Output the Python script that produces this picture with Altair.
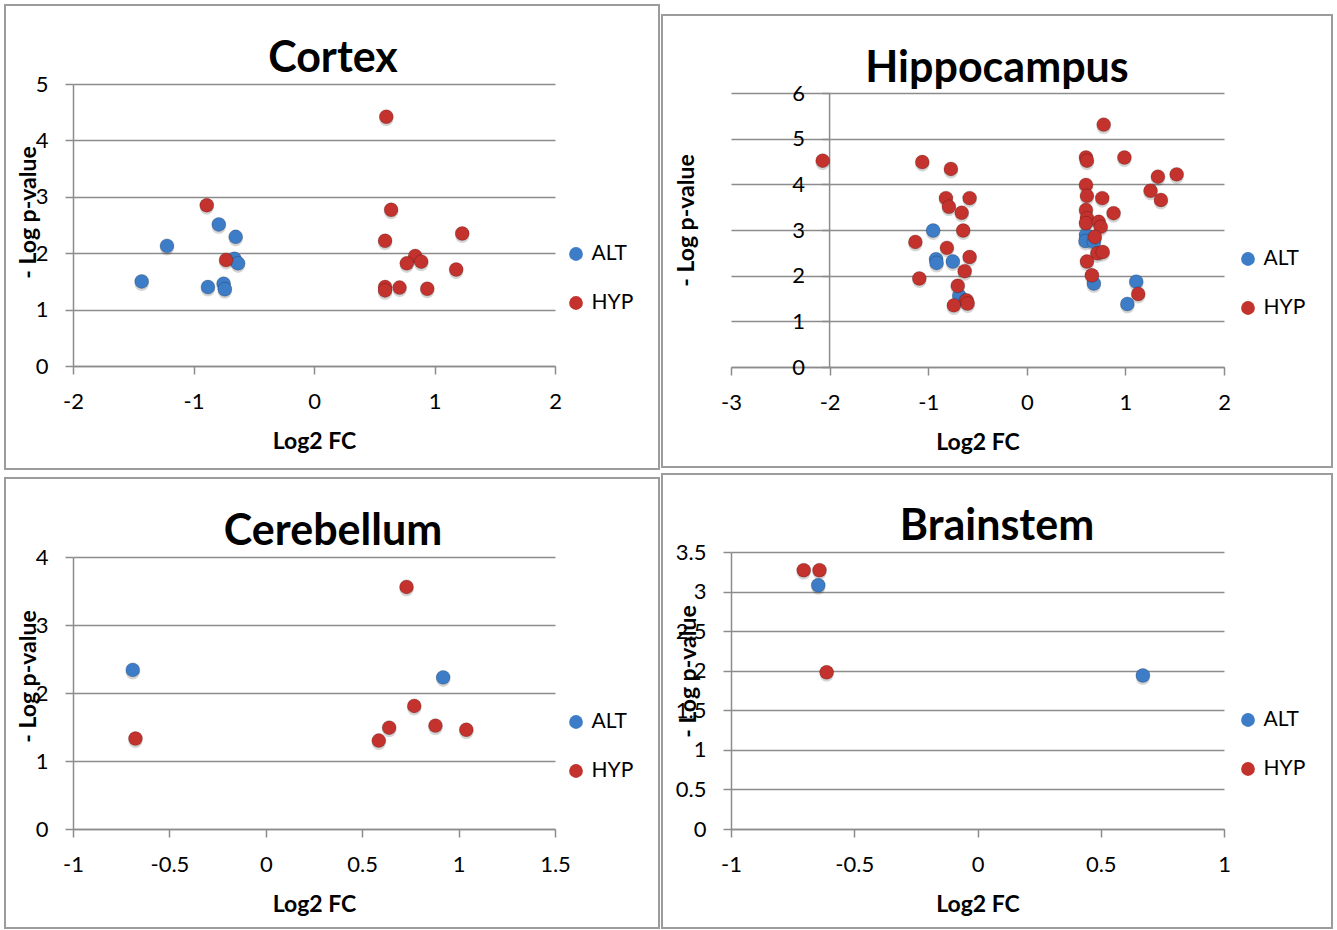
import altair as alt
import pandas as pd

# Series names and colours
GROUPS = ["ALT", "HYP"]
COLORS = ["#3d7cc7", "#c3322d"]
GRID = "#8c8c8c"
FONT = "Lato"

PANELS = ["Cortex", "Hippocampus", "Cerebellum", "Brainstem"]

# Cortex: log2 fold change and -log p-value
cortex_alt_fc = [-1.43, -1.22, -0.79, -0.65, -0.66, -0.63, -0.88, -0.75, -0.74]
cortex_alt_p = [1.50, 2.13, 2.51, 2.29, 1.90, 1.82, 1.40, 1.46, 1.36]
cortex_hyp_fc = [-0.89, -0.73, 0.60, 0.64, 0.59, 1.23, 0.84, 0.77, 0.89, 1.18, 0.59, 0.59, 0.71, 0.94]
cortex_hyp_p = [2.85, 1.88, 4.42, 2.77, 2.22, 2.35, 1.95, 1.82, 1.85, 1.71, 1.40, 1.34, 1.39, 1.37]

# Hippocampus
hippo_alt_fc = [-0.95, -0.92, -0.915, -0.75, -0.685, -0.62, 0.60, 0.595, 0.68, 0.68, 1.11, 1.02]
hippo_alt_p = [2.99, 2.36, 2.28, 2.31, 1.56, 1.45, 2.89, 2.76, 2.74, 1.83, 1.87, 1.38]
hippo_hyp_fc = [-2.07, -1.06, -0.77, -0.82, -0.79, -0.58, -0.66, -0.645, -1.13, -0.81, -0.58,
                -0.63, -1.09, -0.70, -0.74, -0.61, -0.60,
                0.78, 0.60, 0.61, 0.99, 1.33, 1.52, 1.255, 1.36, 0.60, 0.61, 0.765, 0.88,
                0.60, 0.61, 0.60, 0.73, 0.75, 0.69, 0.715, 0.77, 0.61, 0.66, 1.13]
hippo_hyp_p = [4.52, 4.49, 4.34, 3.70, 3.51, 3.70, 3.38, 2.99, 2.74, 2.61, 2.41,
               2.10, 1.94, 1.78, 1.35, 1.46, 1.39,
               5.31, 4.59, 4.52, 4.59, 4.17, 4.22, 3.86, 3.66, 3.99, 3.75, 3.70, 3.37,
               3.44, 3.26, 3.15, 3.18, 3.07, 2.85, 2.49, 2.52, 2.31, 2.01, 1.60]

# Cerebellum
cereb_alt_fc = [-0.69, 0.92]
cereb_alt_p = [2.34, 2.23]
cereb_hyp_fc = [-0.676, 0.73, 0.77, 0.64, 0.586, 0.88, 1.04]
cereb_hyp_p = [1.33, 3.56, 1.81, 1.49, 1.30, 1.52, 1.46]

# Brainstem
brain_alt_fc = [-0.646, 0.671]
brain_alt_p = [3.08, 1.94]
brain_hyp_fc = [-0.705, -0.641, -0.612]
brain_hyp_p = [3.27, 3.27, 1.98]

# Axis tick values
cortex_x_ticks = [-2, -1, 0, 1, 2]
cortex_y_ticks = [0, 1, 2, 3, 4, 5]
hippo_x_ticks = [-3, -2, -1, 0, 1, 2]
hippo_y_ticks = [0, 1, 2, 3, 4, 5, 6]
cereb_x_ticks = [-1, -0.5, 0, 0.5, 1, 1.5]
cereb_y_ticks = [0, 1, 2, 3, 4]
brain_x_ticks = [-1, -0.5, 0, 0.5, 1]
brain_y_ticks = [0, 0.5, 1, 1.5, 2, 2.5, 3, 3.5]

# Hippocampus: value axis stands at x = -2 and leaves a little headroom above 6
hippo_axis_cross = -2
hippo_y_top = 6.2


def frame(alt_fc, alt_p, hyp_fc, hyp_p):
    return pd.DataFrame({
        "fc": list(alt_fc) + list(hyp_fc),
        "p": list(alt_p) + list(hyp_p),
        "group": [GROUPS[0]] * len(alt_fc) + [GROUPS[1]] * len(hyp_fc),
    })


def panel(name, data, x_ticks, y_ticks, width, height, box, title_xy,
          ytitle_xy, legend_xy, y_axis_offset=0, spacer_top=None,
          y_top=None, axis_cross=None):
    y_max = y_ticks[-1] if y_top is None else y_top
    x_axis = alt.Axis(
        values=x_ticks, title="Log2 FC", grid=False,
        labelExpr="datum.value + ''", labelFlush=False, labelOverlap=False,
        labelFont=FONT, labelFontSize=22, labelColor="black", labelPadding=17,
        tickSize=8, tickColor=GRID, tickWidth=1.5,
        domainColor=GRID, domainWidth=1.5,
        titleFont=FONT, titleFontSize=23, titleFontWeight="bold", titleColor="black",
        titleY=75, titleBaseline="middle",
    )
    y_axis = alt.Axis(
        values=y_ticks, title="- Log p-value", grid=True,
        gridColor=GRID, gridWidth=1.5,
        labelExpr="datum.value + ''", labelOverlap=False,
        labelFont=FONT, labelFontSize=22, labelColor="black", labelPadding=17,
        tickSize=8, tickColor=GRID, tickWidth=1.5,
        domain=axis_cross is None, domainColor=GRID, domainWidth=1.5,
        titleFont=FONT, titleFontSize=23, titleFontWeight="bold", titleColor="black",
        titleAngle=270, titleX=ytitle_xy[0], titleY=ytitle_xy[1],
        titleAlign="center", titleBaseline="middle",
        offset=y_axis_offset,
    )
    x_enc = alt.X("fc:Q", scale=alt.Scale(domain=[x_ticks[0], x_ticks[-1]], nice=False, zero=False),
                  axis=x_axis)
    y_enc = alt.Y("p:Q", scale=alt.Scale(domain=[y_ticks[0], y_max], nice=False),
                  axis=y_axis)

    label = pd.DataFrame({"panel": [name]})

    # Grey frame round the whole panel
    border = alt.Chart(label).mark_rect(fillOpacity=0, stroke="#9c9c9c", strokeWidth=2).encode(
        x=alt.value(box[0]), x2=alt.value(box[1]), y=alt.value(box[2]), y2=alt.value(box[3])
    )
    heading = alt.Chart(label).mark_text(
        font=FONT, fontSize=43, fontWeight="bold", color="black",
        align="center", baseline="middle",
    ).encode(text="panel:N", x=alt.value(title_xy[0]), y=alt.value(title_xy[1]))

    base = alt.Chart(data)
    shadow = base.mark_circle(size=200, color="#000000", opacity=0.16).encode(
        x=x_enc, y=y_enc, yOffset=alt.value(2.5)
    )
    points = base.mark_circle(size=195, opacity=1, stroke="#000000", strokeOpacity=0.25,
                              strokeWidth=0.8).encode(
        x=x_enc, y=y_enc,
        color=alt.Color(
            "group:N",
            scale=alt.Scale(domain=GROUPS, range=COLORS),
            legend=alt.Legend(
                title=None, orient="none", legendX=legend_xy[0], legendY=legend_xy[1],
                symbolType="circle", symbolSize=190, symbolStrokeWidth=0,
                labelFont=FONT, labelFontSize=21, labelColor="black",
                rowPadding=27, labelOffset=5, padding=0,
            ),
        ),
    )

    layers = [border]
    if spacer_top is not None:
        # invisible mark that sets how far this panel's frame sits below its row's top
        layers.append(
            alt.Chart(label).mark_rule(opacity=0).encode(
                x=alt.value(0), y=alt.value(spacer_top), y2=alt.value(spacer_top + 1)
            )
        )
    if axis_cross is not None:
        # value axis line drawn where it crosses the category axis
        layers.append(
            alt.Chart(label).mark_rule(color=GRID, strokeWidth=1.5).encode(
                x=alt.datum(axis_cross, type="quantitative"),
                y=alt.datum(y_ticks[0], type="quantitative"),
                y2=alt.datum(y_ticks[-1]),
            )
        )
    layers += [heading, shadow, points]
    return alt.layer(*layers).properties(width=width, height=height)


cortex = panel(
    PANELS[0], frame(cortex_alt_fc, cortex_alt_p, cortex_hyp_fc, cortex_hyp_p),
    cortex_x_ticks, cortex_y_ticks, 482, 282,
    box=(-68, 586, -79, 385), title_xy=(260, -25),
    ytitle_xy=(-45, 128), legend_xy=(492.5, 159.5),
)
hippo = panel(
    PANELS[1], frame(hippo_alt_fc, hippo_alt_p, hippo_hyp_fc, hippo_hyp_p),
    hippo_x_ticks, hippo_y_ticks, 493, 283,
    box=(-69, 601, -69, 383), title_xy=(266, -15),
    ytitle_xy=(-143, 136), legend_xy=(506.5, 164.5),
    y_axis_offset=-98.6, y_top=hippo_y_top, axis_cross=hippo_axis_cross,
)
cereb = panel(
    PANELS[2], frame(cereb_alt_fc, cereb_alt_p, cereb_hyp_fc, cereb_hyp_p),
    cereb_x_ticks, cereb_y_ticks, 482, 272,
    box=(-68, 586, -79, 371), title_xy=(260, -25),
    ytitle_xy=(-45, 119), legend_xy=(492.5, 154.5),
    spacer_top=-84,
)
brain = panel(
    PANELS[3], frame(brain_alt_fc, brain_alt_p, brain_hyp_fc, brain_hyp_p),
    brain_x_ticks, brain_y_ticks, 493, 277,
    box=(-69, 601, -78, 376), title_xy=(266, -25),
    ytitle_xy=(-43, 119), legend_xy=(506.5, 157.5),
)

chart = (
    alt.concat(cortex, hippo, cereb, brain, columns=2, align="none",
               spacing={"row": 3, "column": 1})
    .resolve_scale(color="independent")
    .properties(padding={"left": 4, "top": 4, "right": 0, "bottom": 0}, background="white")
    .configure_view(stroke=None)
)

chart.save("out.html", embed_options={"renderer": "svg", "actions": False})
